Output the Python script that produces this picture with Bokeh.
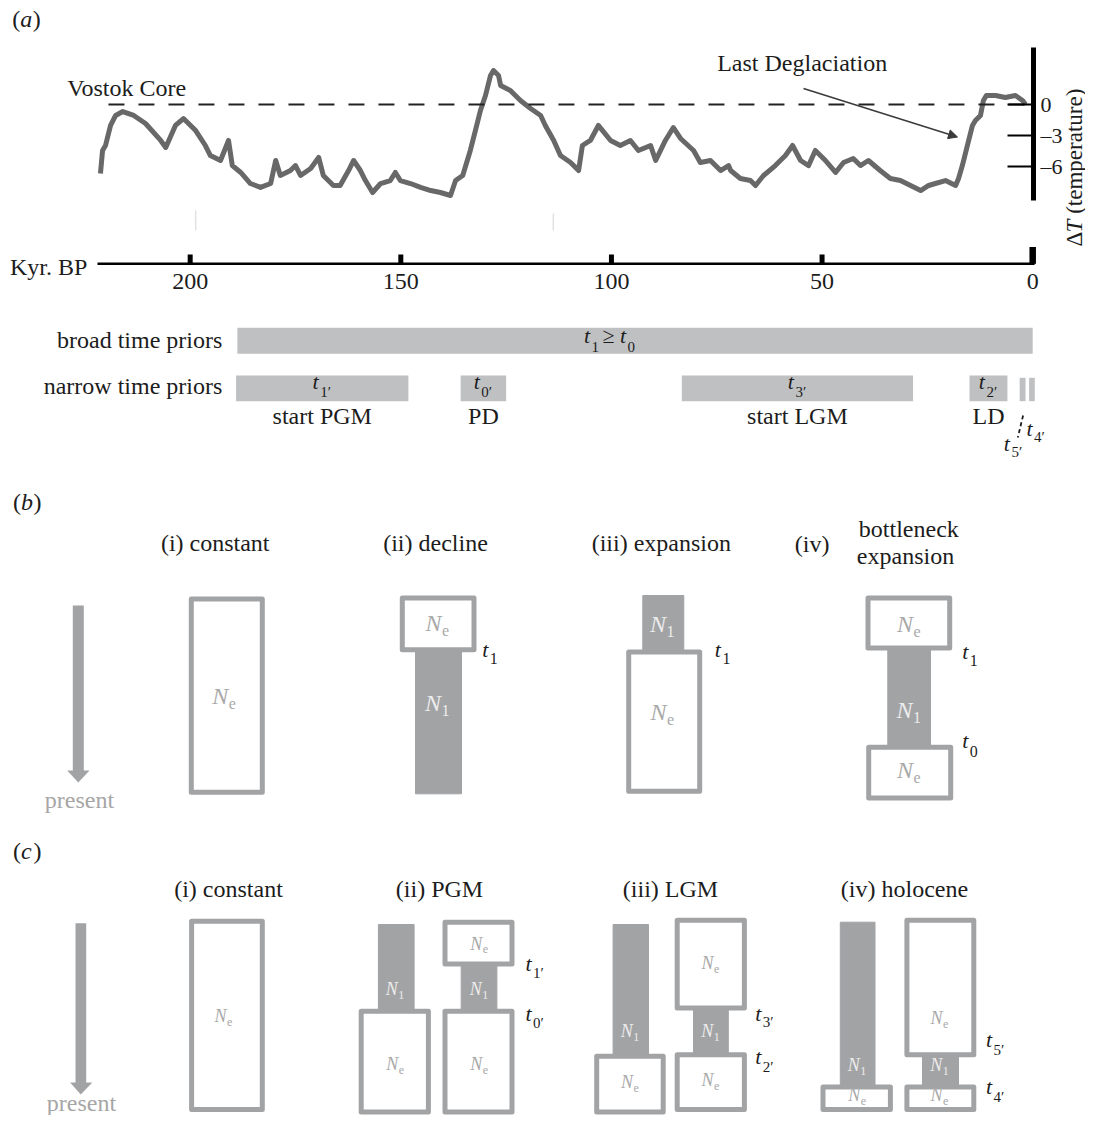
import numpy as np
from bokeh.plotting import figure
from bokeh.models import Range1d, Arrow, NormalHead
from bokeh.embed import file_html
from bokeh.resources import INLINE
from bokeh.core.properties import value

# ---------------- data ----------------
vostok_kyr = [221.3, 220.8, 220.1, 218.9, 217.7, 216.0, 213.4, 210.6, 207.0, 205.8,
              203.5, 201.6, 198.7, 196.4, 195.2, 192.8, 190.9, 190.0, 188.0, 185.7,
              183.3, 180.9, 179.7, 178.6, 176.2, 175.0, 173.8, 171.4, 169.5, 168.4,
              166.0, 164.4, 162.4, 161.2, 159.6, 158.4, 156.7, 154.8, 152.5, 151.3,
              150.1, 147.7, 145.3, 142.9, 140.6, 138.2, 137.0, 135.3, 133.5, 132.3,
              131.1, 129.9, 128.7, 128.0, 126.8, 126.3, 124.0, 121.6, 119.2, 116.8,
              115.7, 113.7, 112.1, 109.7, 107.8, 106.9, 105.0, 103.1, 102.1, 100.2,
              97.9, 95.5, 93.6, 90.7, 89.5, 87.2, 85.3, 83.6, 80.5, 78.9,
              76.5, 74.1, 72.2, 71.7, 69.4, 67.0, 65.8, 63.9, 61.1, 58.7,
              57.0, 55.1, 53.2, 51.6, 49.2, 46.8, 44.9, 42.6, 40.9, 39.0,
              36.2, 33.8, 31.4, 29.0, 26.6, 24.7, 23.1, 20.7, 18.3, 17.6,
              16.7, 15.2, 14.3, 13.6, 12.4, 11.7, 11.0, 8.8, 6.5, 4.1,
              2.4, 1.7]
vostok_dT = [-6.68, -4.45, -3.97, -2.03, -1.06, -0.68, -1.06, -1.84, -3.48, -4.16,
             -2.03, -1.36, -2.52, -3.97, -4.94, -5.42, -3.48, -5.91, -6.58, -7.65,
             -8.03, -7.65, -5.42, -6.87, -6.39, -5.91, -6.87, -6.20, -5.13, -6.87,
             -7.84, -7.84, -6.39, -5.42, -6.39, -7.36, -8.52, -7.65, -7.36, -6.58,
             -7.36, -7.65, -8.03, -8.33, -8.52, -8.81, -7.36, -6.87, -4.45, -2.52,
             -0.58, 0.87, 2.81, 3.29, 2.81, 1.84, 1.36, 0.39, -0.39, -1.06,
             -2.03, -3.48, -4.94, -5.61, -6.39, -3.97, -3.48, -2.03, -2.52, -3.48,
             -3.97, -3.48, -4.45, -3.97, -5.42, -3.48, -2.23, -3.29, -4.45, -5.61,
             -5.42, -6.39, -5.91, -6.39, -7.16, -7.36, -7.84, -6.87, -5.91, -4.94,
             -3.97, -5.42, -5.91, -4.45, -5.42, -6.58, -5.61, -5.23, -5.91, -5.42,
             -6.39, -7.16, -7.36, -7.84, -8.33, -7.84, -7.65, -7.36, -7.84, -7.16,
             -5.91, -3.48, -2.03, -1.55, -1.06, 0.39, 0.87, 0.87, 0.68, 0.87,
             0.39, 0.0]
kyr_ticks = [200, 150, 100, 50, 0]
dT_ticks = [0, -3, -6]
dT_tick_labels = ["0", "\u20133", "\u20136"]
broad_prior = [188.8, 0.0]
narrow_subs = ["1\u2032", "0\u2032", "3\u2032", "2\u2032", "5\u2032", "4\u2032"]
narrow_start = [189.1, 135.8, 83.3, 15.0, 3.1, 0.85]
narrow_end = [148.2, 125.0, 28.4, 6.0, 1.7, -0.5]
narrow_events = ["start PGM", "PD", "start LGM", "LD"]
dashed_ref_span = [219.4, -0.2]

# ---------------- figure ----------------
W, H = 1085, 1115
p = figure(width=W, height=H, x_range=Range1d(0, W), y_range=Range1d(H, 0),
           x_axis_location=None, y_axis_location=None, toolbar_location=None,
           output_backend="svg", min_border=0, outline_line_color=None,
           background_fill_color="white", border_fill_color="white")
p.xgrid.visible = False
p.ygrid.visible = False

KX0, KPX = 1032.2, 4.2126
p.extra_x_ranges = {"kyr": Range1d(KX0 / KPX, (KX0 - W) / KPX)}
TY0, TPX = 104.0, 10.33
p.extra_y_ranges = {"temp": Range1d((TY0 - H) / TPX, TY0 / TPX)}

SERIF = value("Liberation Serif")
TXT = "#1c1c1c"
GRAY = "#a2a3a5"
LIGHT = "#a9a9a9"
WHITEISH = "#ececec"
FS = 24
MID = 0.34


def T(x, y, s, size=FS, color=TXT, align="left", baseline="alphabetic", style="normal",
      angle=0.0, xr="default", yr="default", xoff=0.0):
    yy, tb = y, baseline
    if baseline == "alphabetic" and yr == "default":
        yy, tb = y - MID * size, "middle"
    p.text(x=[x], y=[yy], text=[s], x_offset=xoff, angle=angle, text_font=SERIF,
           text_font_size=f"{size}px", text_color=color, text_align=align,
           text_baseline=tb, text_font_style=style, x_range_name=xr, y_range_name=yr)


WID = {"t": 0.278, "N": 0.667, "e": 0.444, "\u2032": 0.275}


def wid(s, size):
    return sum(WID.get(c, 0.5) for c in s) * size


def SL(x, y, main, sub, size=22, ssize=15, color=TXT, center=False, dy=None, xr="default"):
    mw = wid(main, size) + (1.5 if main == "t" else 0.5)
    tot = mw + wid(sub, ssize)
    off = -tot / 2 if center else 0.0
    if dy is None:
        dy = 0.36 * size
    T(x, y, main, size, color, style="italic", xr=xr, xoff=off)
    T(x, y + dy, sub, ssize, color, xr=xr, xoff=off + mw)


def NL(cx, cy, sub, size, ssize, color):
    SL(cx, cy + 0.331 * size, "N", sub, size, ssize, color, center=True, dy=0.2 * size)


def panel_label(x, y, letter):
    T(x, y, "(")
    T(x + 0.333 * FS, y, letter, style="italic")
    T(x + 0.333 * FS + 0.5 * FS + 0.5, y, ")")


def box(l, r, t, b, lw=5):
    p.quad(left=l + lw / 2, right=r - lw / 2, top=t + lw / 2, bottom=b - lw / 2,
           fill_color="white", line_color=GRAY, line_width=lw, line_join="round")


def fillbar(l, r, t, b):
    p.quad(left=l, right=r, top=t, bottom=b, fill_color=GRAY, line_color=GRAY,
           line_width=1, line_join="round")


# ---------------- panel (a) ----------------
panel_label(11.7, 27, "a")

p.segment(x0=[198.7, 113.8], y0=[210, 213], x1=[198.7, 113.8], y1=[230, 230],
          x_range_name="kyr", line_color="#e2e2e2", line_width=1.5)

p.line(vostok_kyr, vostok_dT, x_range_name="kyr", y_range_name="temp",
       line_color="#686868", line_width=5, line_join="round")
p.line(dashed_ref_span, [0, 0], x_range_name="kyr", y_range_name="temp",
       line_color="#222222", line_width=2, line_dash="16 14")

T(66.7, 96, "Vostok Core")
T(716.7, 71, "Last Deglaciation")
p.add_layout(Arrow(end=NormalHead(size=9, fill_color="#3a3a3a", line_color="#3a3a3a"),
                   x_start=803, y_start=88, x_end=957, y_end=136.5,
                   line_color="#3a3a3a", line_width=1.5))

# temperature axis
p.segment(x0=[1033], y0=[47], x1=[1033], y1=[200], line_color="black", line_width=5)
p.segment(x0=[1007] * 3, y0=dT_ticks, x1=[1033] * 3, y1=dT_ticks, y_range_name="temp",
          line_color="black", line_width=2)
p.text(x=[1040] * 3, y=dT_ticks, text=dT_tick_labels, y_range_name="temp",
       text_font=SERIF, text_font_size="22px", text_color=TXT,
       text_align="left", text_baseline="middle")
AX = 1073.5
T(AX, 246, "\u0394", size=23, baseline="middle", angle=np.pi / 2)
T(AX, 246 - 14.1, "T", size=23, baseline="middle", angle=np.pi / 2, style="italic")
T(AX, 246 - 14.1 - 12.8 - 5.8, "(temperature)", size=23, baseline="middle", angle=np.pi / 2)

# kyr axis
p.segment(x0=[(KX0 - 97) / KPX], y0=[263.3], x1=[-0.45], y1=[263.3], x_range_name="kyr",
          line_color="black", line_width=2.5)
p.segment(x0=kyr_ticks[:-1], y0=[254] * 4, x1=kyr_ticks[:-1], y1=[263.3] * 4,
          x_range_name="kyr", line_color="black", line_width=5)
p.segment(x0=kyr_ticks[-1:], y0=[246.5], x1=kyr_ticks[-1:], y1=[263.3],
          x_range_name="kyr", line_color="black", line_width=6.5)
p.text(x=kyr_ticks, y=[289.5 - MID * FS] * len(kyr_ticks), text=[str(k) for k in kyr_ticks],
       x_range_name="kyr", text_font=SERIF, text_font_size=f"{FS}px", text_color=TXT,
       text_align="center", text_baseline="middle")
T(9.5, 274.5, "Kyr. BP")

# priors
T(221.8, 347.3, "broad time priors", align="right")
T(221.8, 393.3, "narrow time priors", align="right")
p.quad(left=[broad_prior[0]], right=[broad_prior[1]], top=[327.3], bottom=[353.3],
       x_range_name="kyr", fill_color="#bfc0c2", line_color=None)
p.quad(left=narrow_start, right=narrow_end, top=[375, 375, 375, 375, 377.3, 377.3],
       bottom=[400.7] * 6, x_range_name="kyr", fill_color="#bfc0c2", line_color=None)

SL(583.4, 342, "t", "1", ssize=15, dy=9.5)
T(602.0, 342, "\u2265", size=22)
SL(619.5, 342, "t", "0", ssize=15, dy=9.5)

for i in range(4):
    c = 0.5 * (narrow_start[i] + narrow_end[i])
    SL(c, 388, "t", narrow_subs[i], ssize=15, center=True, dy=8.5, xr="kyr")
    T(c, 424, narrow_events[i], align="center", xr="kyr")

p.segment(x0=[1022.6], y0=[415], x1=[1017.3], y1=[437], line_color=TXT,
          line_width=1.8, line_dash="4 3")
SL(1026, 435, "t", narrow_subs[5], ssize=15, dy=7)
SL(1003.3, 450, "t", narrow_subs[4], ssize=15, dy=7)

# ---------------- panel (b) ----------------
panel_label(12.5, 510, "b")
T(214.7, 551, "(i) constant", align="center")
T(435, 551, "(ii) decline", align="center")
T(660.8, 551, "(iii) expansion", align="center")
T(811.7, 552, "(iv)", align="center")
T(908.3, 536.7, "bottleneck", align="center")
T(905, 564, "expansion", align="center")

p.quad(left=[72.3], right=[83.3], top=[605], bottom=[771], fill_color=GRAY, line_color=None)
p.patch([66.7, 89, 77.8], [770, 770, 782], fill_color=GRAY, line_color=None)
T(79, 808, "present", color="#a6a6a6", align="center")

box(188.3, 264.3, 596, 794.3)
NL(223.5, 696, "e", 24, 16, LIGHT)

fillbar(415, 461, 649, 793.3)
box(399.3, 476, 595, 651.7)
NL(436.7, 623, "e", 24, 16, LIGHT)
NL(436.7, 703, "1", 24, 16, WHITEISH)
SL(481.7, 656.7, "t", "1", ssize=16, dy=7)

fillbar(642.3, 683.3, 595, 652)
box(625.7, 701.7, 649, 793.3)
NL(661.7, 624, "1", 24, 16, WHITEISH)
NL(661.7, 712, "e", 24, 16, LIGHT)
SL(714.3, 656.7, "t", "1", ssize=16, dy=7)

fillbar(887.3, 930, 648, 746)
box(865, 951.7, 595, 650)
box(865.7, 952.7, 744.3, 800)
NL(908.3, 624, "e", 24, 16, LIGHT)
NL(908.3, 710, "1", 24, 16, WHITEISH)
NL(908.3, 770, "e", 24, 16, LIGHT)
SL(961.7, 658, "t", "1", ssize=16, dy=7)
SL(961.7, 747, "t", "0", ssize=16, dy=9)

# ---------------- panel (c) ----------------
panel_label(12.5, 858.3, "c")
T(228, 896.7, "(i) constant", align="center")
T(439, 896.7, "(ii) PGM", align="center")
T(670, 896.7, "(iii) LGM", align="center")
T(904, 896.7, "(iv) holocene", align="center")

p.quad(left=[75], right=[85.7], top=[922.7], bottom=[1083], fill_color=GRAY, line_color=None)
p.patch([69.6, 91.8, 80.3], [1082, 1082, 1094], fill_color=GRAY, line_color=None)
T(81, 1111, "present", color="#a6a6a6", align="center")

NS, NSS = 18, 12
box(188.6, 264.3, 918.3, 1111.5)
NL(222.9, 1016, "e", NS, NSS, LIGHT)

# (ii) PGM
fillbar(377.9, 413.6, 924, 1010)
box(358.2, 430.4, 1008.3, 1114)
NL(394.6, 989, "1", NS, NSS, WHITEISH)
NL(394.6, 1064, "e", NS, NSS, LIGHT)
fillbar(460.7, 496.4, 964, 1010)
box(442, 514, 919.3, 966)
box(442, 514, 1008.3, 1114)
NL(478.6, 943.5, "e", NS, NSS, LIGHT)
NL(478.6, 989, "1", NS, NSS, WHITEISH)
NL(478.6, 1064, "e", NS, NSS, LIGHT)
SL(525, 970, "t", "1\u2032", ssize=15, dy=8)
SL(525, 1020, "t", "0\u2032", ssize=15, dy=8)

# (iii) LGM
fillbar(612.6, 648, 924, 1055)
box(593.7, 665.2, 1053.3, 1114)
NL(629.4, 1031, "1", NS, NSS, WHITEISH)
NL(629.4, 1082, "e", NS, NSS, LIGHT)
fillbar(693, 727.8, 1008, 1053)
box(674.2, 746.4, 917.3, 1010)
box(674.2, 746.4, 1051.7, 1111.5)
NL(710, 963, "e", NS, NSS, LIGHT)
NL(710, 1031, "1", NS, NSS, WHITEISH)
NL(710, 1080, "e", NS, NSS, LIGHT)
SL(754.7, 1020, "t", "3\u2032", ssize=15, dy=7)
SL(754.7, 1063.3, "t", "2\u2032", ssize=15, dy=8)

# (iv) holocene
fillbar(839.8, 874.5, 921.7, 1086)
box(820, 892.4, 1084, 1111.5)
NL(856.6, 1065, "1", NS, NSS, WHITEISH)
NL(856.6, 1095, "e", NS, NSS, LIGHT)
fillbar(922, 958, 1055, 1086)
box(903.9, 975.8, 917.3, 1056.7)
box(903.9, 975.8, 1084, 1111.5)
NL(939, 1018, "e", NS, NSS, LIGHT)
NL(939, 1065, "1", NS, NSS, WHITEISH)
NL(939, 1095, "e", NS, NSS, LIGHT)
SL(985.4, 1046.7, "t", "5\u2032", ssize=15, dy=8)
SL(985.4, 1093.3, "t", "4\u2032", ssize=15, dy=8)

open("out.html", "w").write(file_html(p, INLINE))
